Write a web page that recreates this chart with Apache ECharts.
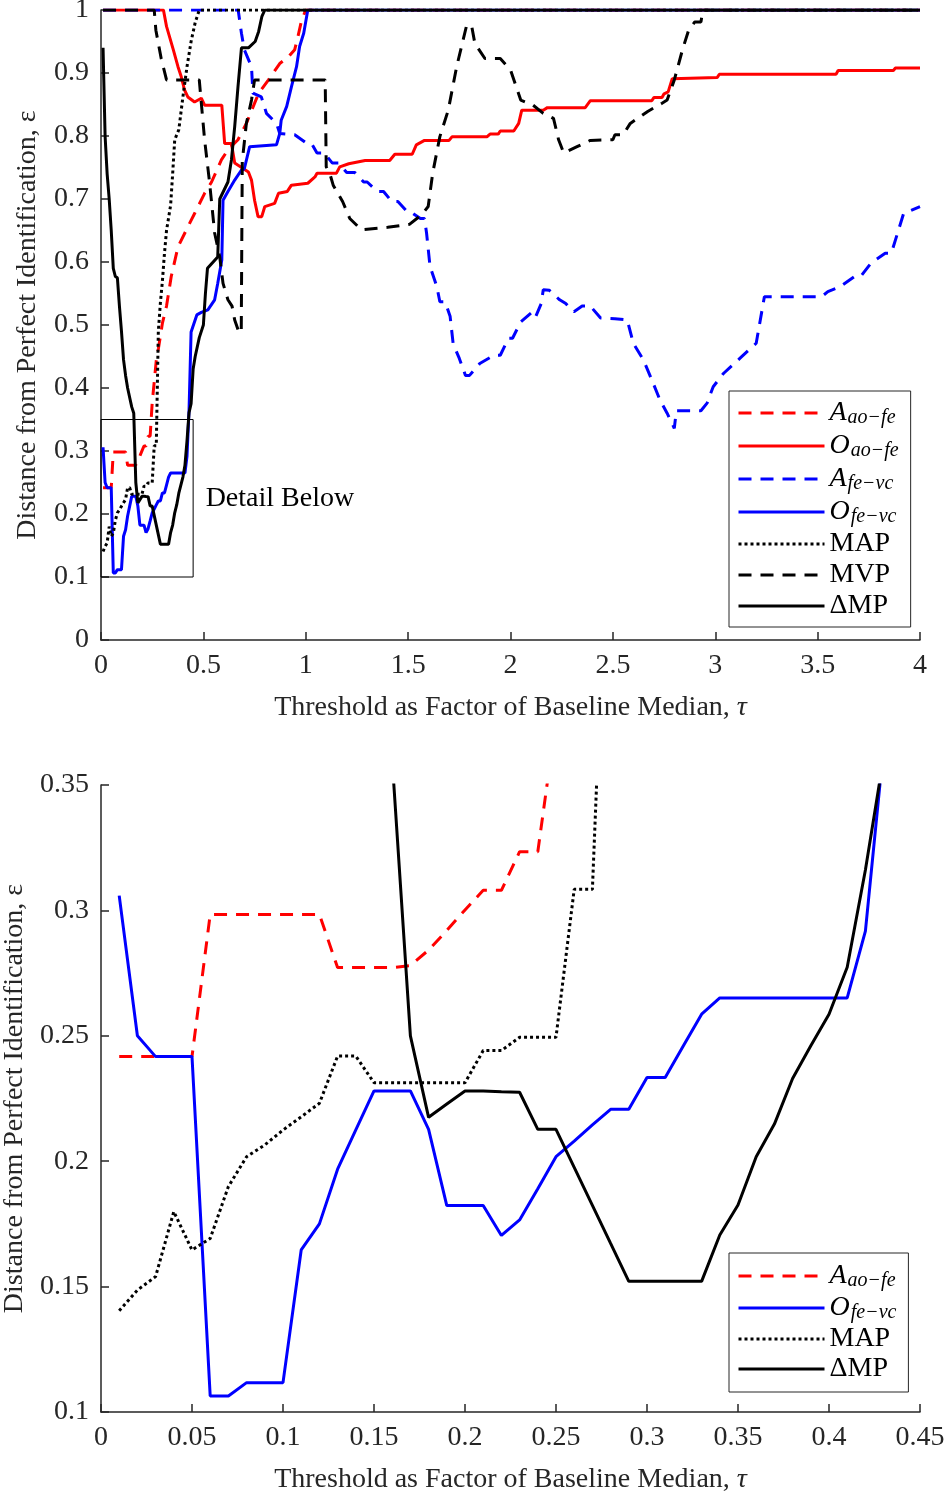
<!DOCTYPE html>
<html>
<head>
    <meta charset="utf-8">
    <title>ECharts</title>
    <script src="https://cdn.jsdelivr.net/npm/echarts@6/dist/echarts.min.js"></script>
    <style>
        body { margin: 0; background: #fff; }
    </style>
</head>
<body>
    <div id="main" style="width: 945px;height:1494px;"></div>
    <script type="text/javascript">
        // [tau, epsilon] pairs
        var aAoFe = [[0.01,0.2417],[0.02,0.2417],[0.03,0.2417],[0.04,0.2417],[0.05,0.2417],[0.06,0.2984],[0.07,0.2984],[0.08,0.2984],[0.09,0.2984],[0.10,0.2984],[0.11,0.2984],[0.12,0.2984],[0.13,0.2772],[0.14,0.2772],[0.15,0.2772],[0.16,0.2772],[0.17,0.2780],[0.18,0.2842],[0.19,0.2920],[0.20,0.3002],[0.21,0.3080],[0.22,0.3080],[0.23,0.3234],[0.24,0.3234],[0.25,0.376],[0.26,0.41],[0.27,0.444],[0.28,0.462],[0.29,0.482],[0.30,0.503],[0.32,0.530],[0.343,0.577],[0.376,0.624],[0.417,0.651],[0.457,0.677],[0.506,0.709],[0.54,0.727],[0.588,0.762],[0.62,0.778],[0.669,0.794],[0.71,0.82],[0.77,0.868],[0.818,0.889],[0.873,0.915],[0.916,0.926],[0.946,0.937],[0.962,0.958],[0.98,0.984],[1.0,1.0],[4.0,1.0]];
        var oAoFe = [[0.01,1.0],[0.305,1.0],[0.32,0.974],[0.353,0.937],[0.376,0.91],[0.392,0.894],[0.408,0.873],[0.424,0.862],[0.457,0.854],[0.49,0.86],[0.506,0.849],[0.59,0.849],[0.604,0.788],[0.637,0.788],[0.653,0.757],[0.72,0.743],[0.735,0.73],[0.75,0.698],[0.767,0.672],[0.785,0.672],[0.80,0.688],[0.848,0.693],[0.867,0.709],[0.91,0.712],[0.93,0.722],[1.01,0.725],[1.045,0.735],[1.055,0.741],[1.15,0.741],[1.166,0.751],[1.21,0.756],[1.29,0.761],[1.41,0.761],[1.435,0.771],[1.52,0.771],[1.54,0.786],[1.58,0.793],[1.70,0.793],[1.715,0.799],[1.886,0.799],[1.90,0.803],[1.94,0.803],[1.95,0.808],[2.016,0.808],[2.04,0.82],[2.055,0.841],[2.16,0.841],[2.18,0.845],[2.365,0.845],[2.39,0.856],[2.69,0.856],[2.70,0.861],[2.74,0.861],[2.75,0.867],[2.77,0.87],[2.79,0.891],[3.01,0.893],[3.02,0.898],[3.59,0.898],[3.60,0.904],[3.87,0.904],[3.88,0.908],[4.0,0.908]];
        var aFeVc = [[0.01,1.0],[0.67,1.0],[0.686,0.963],[0.70,0.937],[0.735,0.91],[0.742,0.868],[0.783,0.862],[0.808,0.836],[0.857,0.82],[0.873,0.804],[0.946,0.802],[1.01,0.787],[1.03,0.787],[1.055,0.773],[1.09,0.773],[1.13,0.757],[1.16,0.757],[1.20,0.742],[1.24,0.742],[1.283,0.727],[1.30,0.727],[1.35,0.712],[1.38,0.712],[1.42,0.696],[1.45,0.696],[1.495,0.68],[1.51,0.68],[1.56,0.669],[1.58,0.669],[1.59,0.646],[1.607,0.593],[1.64,0.561],[1.655,0.537],[1.68,0.537],[1.705,0.514],[1.72,0.47],[1.75,0.447],[1.78,0.42],[1.80,0.42],[1.85,0.439],[1.92,0.452],[1.95,0.452],[1.99,0.479],[2.01,0.479],[2.05,0.505],[2.10,0.519],[2.12,0.511],[2.15,0.534],[2.16,0.556],[2.19,0.555],[2.24,0.54],[2.27,0.534],[2.31,0.521],[2.35,0.53],[2.39,0.53],[2.44,0.511],[2.51,0.51],[2.57,0.508],[2.60,0.471],[2.65,0.444],[2.69,0.413],[2.73,0.381],[2.765,0.36],[2.80,0.336],[2.81,0.364],[2.93,0.364],[2.96,0.376],[2.99,0.402],[3.04,0.423],[3.12,0.447],[3.20,0.471],[3.24,0.545],[3.52,0.545],[3.55,0.553],[3.61,0.561],[3.68,0.577],[3.71,0.577],[3.76,0.598],[3.83,0.614],[3.86,0.614],[3.90,0.656],[3.92,0.677],[4.0,0.688]];
        var oFeVc = [[0.01,0.3059],[0.02,0.25],[0.03,0.2417],[0.04,0.2417],[0.05,0.2417],[0.06,0.1064],[0.07,0.1064],[0.08,0.1117],[0.09,0.1117],[0.10,0.1117],[0.11,0.1646],[0.12,0.175],[0.13,0.1968],[0.14,0.2125],[0.15,0.228],[0.16,0.228],[0.17,0.228],[0.18,0.2127],[0.19,0.1823],[0.20,0.1823],[0.21,0.1823],[0.22,0.1704],[0.23,0.1766],[0.24,0.189],[0.25,0.2018],[0.26,0.208],[0.27,0.2145],[0.28,0.2207],[0.29,0.2207],[0.30,0.2334],[0.31,0.2334],[0.32,0.246],[0.33,0.2586],[0.34,0.2651],[0.35,0.2651],[0.36,0.2651],[0.37,0.2651],[0.38,0.2651],[0.39,0.2651],[0.40,0.2651],[0.41,0.2651],[0.42,0.2917],[0.43,0.365],[0.44,0.489],[0.468,0.516],[0.49,0.52],[0.522,0.524],[0.555,0.54],[0.57,0.566],[0.59,0.603],[0.596,0.698],[0.62,0.712],[0.653,0.73],[0.686,0.746],[0.70,0.748],[0.726,0.783],[0.735,0.786],[0.857,0.786],[0.873,0.804],[0.88,0.825],[0.907,0.847],[0.93,0.878],[0.955,0.91],[0.97,0.942],[0.99,0.963],[1.01,1.0],[4.0,1.0]];
        var mapVals = [[0.01,0.1404],[0.02,0.1486],[0.03,0.154],[0.04,0.1799],[0.05,0.1646],[0.06,0.1692],[0.07,0.1899],[0.08,0.2018],[0.09,0.2065],[0.10,0.2124],[0.11,0.2177],[0.12,0.2231],[0.13,0.2419],[0.14,0.2419],[0.15,0.2313],[0.16,0.2313],[0.17,0.2313],[0.18,0.2313],[0.19,0.2313],[0.20,0.2313],[0.21,0.2441],[0.22,0.2441],[0.23,0.2494],[0.24,0.2494],[0.25,0.2494],[0.26,0.3084],[0.27,0.3084],[0.28,0.49],[0.29,0.535],[0.30,0.57],[0.31,0.614],[0.32,0.65],[0.34,0.69],[0.35,0.74],[0.36,0.794],[0.38,0.81],[0.40,0.862],[0.42,0.91],[0.44,0.95],[0.46,0.98],[0.48,1.0],[4.0,1.0]];
        var mvpVals = [[0.01,1.0],[0.26,1.0],[0.268,0.968],[0.294,0.923],[0.32,0.889],[0.48,0.889],[0.49,0.852],[0.506,0.794],[0.53,0.727],[0.555,0.646],[0.58,0.608],[0.596,0.566],[0.62,0.54],[0.64,0.53],[0.653,0.508],[0.675,0.487],[0.685,0.49],[0.69,0.76],[0.71,0.82],[0.735,0.857],[0.75,0.889],[1.095,0.889],[1.10,0.751],[1.117,0.741],[1.134,0.722],[1.18,0.696],[1.215,0.669],[1.272,0.651],[1.40,0.655],[1.508,0.66],[1.566,0.675],[1.598,0.688],[1.62,0.741],[1.655,0.799],[1.696,0.841],[1.737,0.91],[1.786,0.976],[1.81,0.975],[1.826,0.947],[1.875,0.923],[1.95,0.923],[2.0,0.905],[2.05,0.857],[2.11,0.849],[2.16,0.836],[2.21,0.828],[2.235,0.794],[2.26,0.773],[2.325,0.783],[2.39,0.793],[2.5,0.794],[2.51,0.802],[2.55,0.802],[2.585,0.82],[2.67,0.839],[2.74,0.852],[2.765,0.857],[2.80,0.889],[2.84,0.937],[2.87,0.968],[2.90,0.981],[2.93,0.981],[2.94,1.0],[4.0,1.0]];
        var dmpVals = [[0.01,0.94],[0.02,0.80],[0.03,0.74],[0.04,0.70],[0.05,0.65],[0.06,0.59],[0.07,0.577],[0.08,0.575],[0.09,0.53],[0.10,0.49],[0.11,0.445],[0.12,0.42],[0.13,0.40],[0.14,0.385],[0.15,0.37],[0.16,0.36],[0.17,0.25],[0.18,0.2175],[0.19,0.2228],[0.20,0.228],[0.21,0.228],[0.22,0.2277],[0.23,0.2275],[0.24,0.2127],[0.25,0.2127],[0.26,0.1975],[0.27,0.1824],[0.28,0.1672],[0.29,0.1521],[0.30,0.1521],[0.31,0.1521],[0.32,0.1521],[0.33,0.1521],[0.34,0.1706],[0.35,0.1825],[0.36,0.2018],[0.37,0.2148],[0.38,0.233],[0.39,0.246],[0.40,0.2586],[0.41,0.2773],[0.42,0.3161],[0.43,0.361],[0.44,0.375],[0.45,0.43],[0.46,0.45],[0.48,0.48],[0.50,0.50],[0.51,0.55],[0.52,0.59],[0.57,0.608],[0.58,0.70],[0.62,0.727],[0.637,0.762],[0.653,0.815],[0.669,0.878],[0.686,0.94],[0.72,0.94],[0.753,0.95],[0.77,0.966],[0.786,0.99],[0.80,1.0],[4.0,1.0]];

        // axis ranges
        var topTau = [0, 4], topEps = [0, 1];
        var detailTau = [0, 0.45], detailEps = [0.1, 0.35];

        var SERIF = 'Liberation Serif';
        var RED = '#ff0000', BLUE = '#0000ff', BLACK = '#000000';
        var DASH = [13, 9], DOT = [3, 3];

        var legendText = {
            'Aao-fe': '{m|A}{s|ao−fe}',
            'Oao-fe': '{m|O}{s|ao−fe}',
            'Afe-vc': '{m|A}{s|fe−vc}',
            'Ofe-vc': '{m|O}{s|fe−vc}',
            'MAP': '{r|MAP}',
            'MVP': '{r|MVP}',
            'ΔMP': '{r|ΔMP}'
        };
        var legendRich = {
            m: { fontFamily: SERIF, fontStyle: 'italic', fontSize: 28, lineHeight: 29, color: '#000' },
            s: { fontFamily: SERIF, fontStyle: 'italic', fontSize: 20, lineHeight: 16, padding: [10, 0, 0, 1], color: '#000' },
            r: { fontFamily: SERIF, fontSize: 28, lineHeight: 29, color: '#000' }
        };

        var styles = {
            'Aao-fe': { color: RED, type: DASH },
            'Oao-fe': { color: RED, type: 'solid' },
            'Afe-vc': { color: BLUE, type: DASH },
            'Ofe-vc': { color: BLUE, type: 'solid' },
            'MAP': { color: BLACK, type: DOT },
            'MVP': { color: BLACK, type: DASH },
            'ΔMP': { color: BLACK, type: 'solid' }
        };

        function mkLine(name, data, idx) {
            var st = styles[name];
            return {
                name: name, type: 'line', data: data,
                xAxisIndex: idx, yAxisIndex: idx,
                symbol: 'none', clip: true,
                color: st.color,
                lineStyle: { color: st.color, width: 3, type: st.type, cap: 'butt' },
                emphasis: { disabled: true }
            };
        }

        var axisLine = { show: true, lineStyle: { color: '#262626', width: 1.5 } };
        var axisTick = { show: true, inside: true, length: 8, lineStyle: { color: '#262626', width: 1.5 } };
        var tickLabel = { fontFamily: SERIF, fontSize: 28, color: '#262626', margin: 12 };
        var xName = '{t|Threshold as Factor of Baseline Median, }{i|τ}';
        var xNameStyle = { rich: {
            t: { fontFamily: SERIF, fontSize: 28, color: '#262626' },
            i: { fontFamily: SERIF, fontSize: 28, fontStyle: 'italic', color: '#262626' }
        } };
        var yName = 'Distance from Perfect Identification, ε';
        var yNameStyle = { fontFamily: SERIF, fontSize: 28, color: '#262626' };

        var legendBase = {
            orient: 'vertical', left: 729,
            itemWidth: 86, itemHeight: 14,
            borderColor: '#262626', borderWidth: 1, backgroundColor: '#fff',
            selectedMode: false,
            itemStyle: { opacity: 0 },
            lineStyle: { width: 3 },
            formatter: function (n) { return legendText[n]; },
            textStyle: { rich: legendRich }
        };

        var myChart = echarts.init(document.getElementById('main'));

        var option = {
            animation: false,
            backgroundColor: '#fff',
            textStyle: { fontFamily: SERIF },
            grid: [
                { left: 101, right: 25, top: 10, height: 630, outerBoundsMode: 'none', containLabel: false },
                { left: 101, right: 25, top: 785, height: 627, outerBoundsMode: 'none', containLabel: false }
            ],
            xAxis: [
                { type: 'value', gridIndex: 0, min: topTau[0], max: topTau[1], interval: 0.5,
                  axisLine: axisLine, axisTick: axisTick, axisLabel: tickLabel, splitLine: { show: false },
                  name: xName, nameLocation: 'middle', nameGap: 54, nameTextStyle: xNameStyle },
                { type: 'value', gridIndex: 1, min: detailTau[0], max: detailTau[1], interval: 0.05,
                  axisLine: axisLine, axisTick: axisTick, axisLabel: tickLabel, splitLine: { show: false },
                  name: xName, nameLocation: 'middle', nameGap: 54, nameTextStyle: xNameStyle }
            ],
            yAxis: [
                { type: 'value', gridIndex: 0, min: topEps[0], max: topEps[1], interval: 0.1,
                  axisLine: axisLine, axisTick: axisTick, axisLabel: tickLabel, splitLine: { show: false },
                  name: yName, nameLocation: 'middle', nameGap: 59, nameTextStyle: yNameStyle },
                { type: 'value', gridIndex: 1, min: detailEps[0], max: detailEps[1], interval: 0.05,
                  axisLine: axisLine, axisTick: axisTick, axisLabel: tickLabel, splitLine: { show: false },
                  name: yName, nameLocation: 'middle', nameGap: 72, nameTextStyle: yNameStyle }
            ],
            legend: [
                Object.assign({}, legendBase, { top: 391, itemGap: 3, padding: [7, 12, 7, 8],
                  data: ['Aao-fe', 'Oao-fe', 'Afe-vc', 'Ofe-vc', 'MAP', 'MVP', 'ΔMP'] }),
                Object.assign({}, legendBase, { top: 1253, itemGap: 2, padding: [8, 12, 9, 8],
                  data: ['Aao-fe', 'Ofe-vc', 'MAP', 'ΔMP'] })
            ],
            series: [
                { name: 'detailBox', type: 'line', data: [], xAxisIndex: 0, yAxisIndex: 0, symbol: 'none',
                  markArea: {
                      silent: true,
                      itemStyle: { color: 'rgba(0,0,0,0)', borderColor: '#000', borderWidth: 1 },
                      label: { show: true, position: 'right', distance: 12, formatter: 'Detail Below',
                               fontFamily: SERIF, fontSize: 28, color: '#000' },
                      data: [[{ coord: [detailTau[0], detailEps[0]] }, { coord: [detailTau[1], detailEps[1]] }]]
                  } },
                mkLine('Aao-fe', aAoFe, 0),
                mkLine('Oao-fe', oAoFe, 0),
                mkLine('Afe-vc', aFeVc, 0),
                mkLine('Ofe-vc', oFeVc, 0),
                mkLine('MAP', mapVals, 0),
                mkLine('MVP', mvpVals, 0),
                mkLine('ΔMP', dmpVals, 0),
                mkLine('Aao-fe', aAoFe, 1),
                mkLine('Ofe-vc', oFeVc, 1),
                mkLine('MAP', mapVals, 1),
                mkLine('ΔMP', dmpVals, 1)
            ]
        };

        myChart.setOption(option);
    </script>
</body>
</html>
